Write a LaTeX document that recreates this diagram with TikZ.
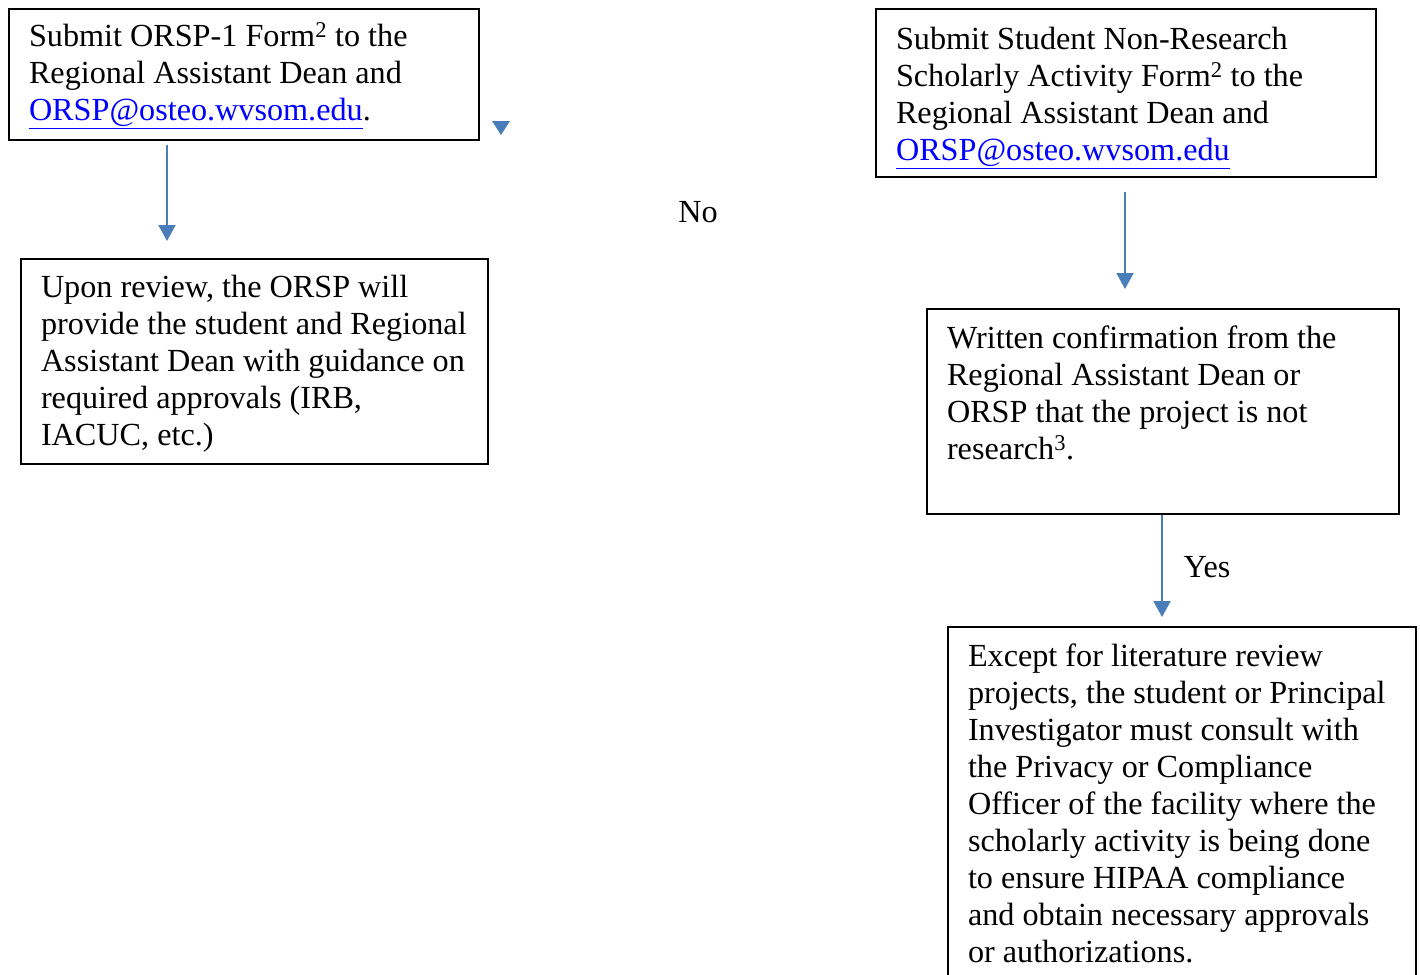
\documentclass[tikz,border=0pt]{standalone}
\usepackage{fontspec}
\setmainfont{Liberation Serif}
\usetikzlibrary{arrows.meta}
\definecolor{arrowblue}{HTML}{4A7EBB}
\definecolor{linkblue}{RGB}{0,0,255}
\newcommand{\flowtext}[4]{\begin{minipage}[t][#2][t]{#1}\fontsize{32.2}{37}\selectfont\raggedright\vspace*{#3}\strut #4\end{minipage}}
\newcommand{\lnk}[1]{\textcolor{linkblue}{\underline{#1}}}
\tikzset{
  flowbox/.style={draw=black, line width=2pt, inner xsep=20pt, inner ysep=0pt, anchor=north west, rectangle},
  flowarrow/.style={draw=arrowblue, line width=2pt, -{Triangle[width=17pt,length=16pt]}},
  flowlabel/.style={font=\fontsize{32.2}{37}\selectfont, inner sep=0pt}
}
\begin{document}
\begin{tikzpicture}[x=1pt,y=1pt]
\useasboundingbox (0,0) rectangle (1420,-974);
\node[flowbox] (orsp) at (8,-8) {\flowtext{430pt}{131pt}{12pt}{Submit ORSP-1 Form\textsuperscript{2} to the\\ Regional Assistant Dean and\\ \lnk{ORSP@osteo.wvsom.edu}.}};
\node[flowbox] (review) at (20,-258) {\flowtext{427pt}{205pt}{13pt}{Upon review, the ORSP will\\ provide the student and Regional\\ Assistant Dean with guidance on\\ required approvals (IRB,\\ IACUC, etc.)}};
\node[flowbox] (nonres) at (875,-8) {\flowtext{460pt}{168pt}{15pt}{Submit Student Non-Research\\ Scholarly Activity Form\textsuperscript{2} to the\\ Regional Assistant Dean and\\ \lnk{ORSP@osteo.wvsom.edu}}};
\node[flowbox] (confirm) at (926,-308) {\flowtext{432pt}{205pt}{14pt}{Written confirmation from the\\ Regional Assistant Dean or\\ ORSP that the project is not\\ research\textsuperscript{3}.}};
\node[flowbox] (hipaa) at (947,-626) {\flowtext{428pt}{380pt}{14pt}{Except for literature review\\ projects, the student or Principal\\ Investigator must consult with\\ the Privacy or Compliance\\ Officer of the facility where the\\ scholarly activity is being done\\ to ensure HIPAA compliance\\ and obtain necessary approvals\\ or authorizations.}};
\draw[flowarrow, shorten <=4pt, shorten >=17pt] (orsp.south -| 167,0) -- (review.north -| 167,0);
\draw[flowarrow, shorten <=14pt, shorten >=19pt] (nonres.south -| 1125,0) -- (confirm.north -| 1125,0);
\draw[flowarrow, shorten >=9pt] (confirm.south -| 1162,0) -- (hipaa.north -| 1162,0);
\coordinate (stray) at (501,-135);
\fill[arrowblue] (stray) -- ++(-9,14) -- ++(18,0) -- cycle;
\node[flowlabel] (no) at (698,-212) {No};
\node[flowlabel] (yes) at (1207,-567) {Yes};
\end{tikzpicture}
\end{document}
